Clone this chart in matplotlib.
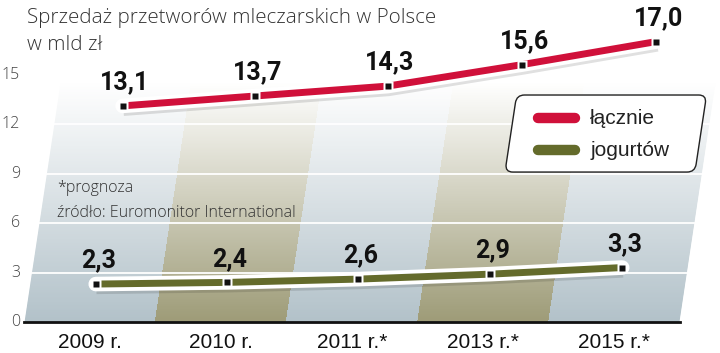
import numpy as np
import matplotlib
matplotlib.use('Agg')
import matplotlib.pyplot as plt
import matplotlib.patheffects as pe
from matplotlib.transforms import Affine2D, blended_transform_factory
from matplotlib.patches import FancyBboxPatch, Polygon

# data
years = ['2009 r.', '2010 r.', '2011 r.*', '2013 r.*', '2015 r.*']
total = [13.1, 13.7, 14.3, 15.6, 17.0]
yogurt = [2.3, 2.4, 2.6, 2.9, 3.3]
yticks = [0, 3, 6, 9, 12, 15]
names = ['łącznie', 'jogurtów']

RED = '#d0103a'
OLIVE = '#646b2b'
BOLD = ['Roboto', 'DejaVu Sans']
SANS = ['Liberation Sans', 'DejaVu Sans']
LIGHT = ['Open Sans', 'DejaVu Sans']

fig = plt.figure(figsize=(7.2, 3.53), dpi=100)
ax = fig.add_axes([0, 0, 1, 1])

# the whole chart is sheared to the right
slant = 0.019
skew = Affine2D().skew(np.arctan(slant), 0) + ax.transData

# background columns with vertical fade to white
vtop = 14.5
n = len(years)
nrow = 200
t = np.linspace(0, 1, nrow)[:, None]
gray = np.array([0.70, 0.76, 0.79])
olive = np.array([0.62, 0.61, 0.47])
img = np.ones((nrow, n, 4))
for j in range(n):
    c = olive if j % 2 else gray
    img[:, j, :3] = c * (1 - t) + t
im = ax.imshow(img, extent=(-0.5, n - 0.5, 0, vtop), origin='lower',
               aspect='auto', interpolation='nearest')
im.set_transform(skew)
clip = Polygon([(-0.5, 0), (n - 0.5, 0), (n - 0.5, vtop), (-0.5, vtop)], closed=True,
               transform=skew, fc='none', ec='none')
ax.add_patch(clip)
im.set_clip_path(clip)

for yv in yticks[1:-1]:
    ax.plot([-0.5, n - 0.5], [yv, yv], color='white', lw=1.3, transform=skew)
ax.plot([-0.5, n - 0.5], [0, 0], color='#111111', lw=2, transform=skew)

# series
xs = np.arange(n)
for vals, color in [(total, RED), (yogurt, OLIVE)]:
    ax.plot(xs, vals, color=color, lw=5, solid_capstyle='butt', transform=skew, zorder=3,
            path_effects=[pe.SimpleLineShadow(offset=(0.5, -1.5), shadow_color='k', alpha=0.12, linewidth=11.5),
                          pe.Stroke(linewidth=10.5, foreground='white', capstyle='round'),
                          pe.Normal()])
    ax.plot(xs, vals, ls='none', marker='s', ms=7.5, mfc='white', mec='none', transform=skew, zorder=4)
    ax.plot(xs, vals, ls='none', marker='s', ms=4.5, mfc='#111111', mec='none', transform=skew, zorder=5)
    for x, v in zip(xs, vals):
        ax.text(x, v + 1.0, f'{v:.1f}'.replace('.', ','), transform=skew, ha='center',
                va='baseline', fontsize=18, fontweight='bold', family=BOLD, color='#111111')

# legend
box = FancyBboxPatch((2.995, 9.09), 1.45, 4.67, boxstyle='round,pad=0,rounding_size=0.06',
                     mutation_aspect=7.94, fc='white', ec='#222222', lw=1, transform=skew, zorder=2)
ax.add_patch(box)
for yv, color, name in [(12.36, RED, names[0]), (10.42, OLIVE, names[1])]:
    ax.plot([3.42, 3.70], [yv, yv], color=color, lw=7.5, solid_capstyle='round', zorder=3)
    ax.text(3.817, yv, name, ha='left', va='center', fontsize=15, family=SANS, color='#222222')

# axis labels
ytrans = blended_transform_factory(ax.transAxes, ax.transData)
for yv in yticks:
    ax.text(0.028, yv, str(yv), transform=ytrans, ha='right', va='center',
            fontsize=11.5, family=LIGHT, fontweight='light', color='#444444')
for x, lab in zip(xs, years):
    ax.text(x, -1.58, lab, ha='center', va='baseline', fontsize=15, family=SANS, color='#111111')

fig.text(0.0375, 1 - 23 / 353, 'Sprzedaż przetworów mleczarskich w Polsce', fontsize=14.8,
         family=LIGHT, fontweight='light', color='#333333', va='baseline')
fig.text(0.0375, 1 - 50 / 353, 'w mld zł', fontsize=14.8, family=LIGHT, fontweight='light',
         color='#333333', va='baseline')
fig.text(57 / 720, 1 - 192 / 353, '*prognoza', fontsize=11.5, family=LIGHT, fontweight='light',
         color='#333333', va='baseline')
fig.text(57 / 720, 1 - 217 / 353, 'źródło: Euromonitor International', fontsize=11.5, family=LIGHT,
         fontweight='light', color='#333333', va='baseline')

ax.set_xlim(-0.687, 4.809)
ax.set_ylim(-1.88, 19.52)
ax.axis('off')
fig.savefig('out.png', dpi=100)
